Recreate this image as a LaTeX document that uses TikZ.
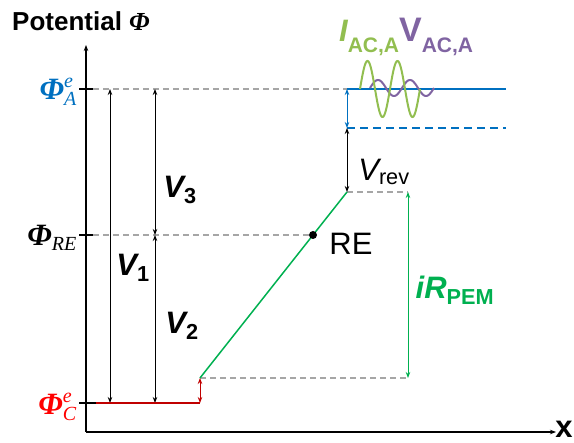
\documentclass[tikz,border=0pt]{standalone}
\usepackage{amsmath}
\usepackage{fontspec}
\setmainfont{Liberation Sans}
\newfontfamily\phifont{Liberation Serif}
\usetikzlibrary{arrows.meta}
\definecolor{cblue}{RGB}{0,112,192}
\definecolor{cgreen}{RGB}{0,176,80}
\definecolor{cdred}{RGB}{192,0,0}
\definecolor{cred}{RGB}{255,0,0}
\definecolor{colive}{RGB}{146,190,80}
\definecolor{cpurple}{RGB}{128,100,162}
\definecolor{cgray}{RGB}{166,166,166}
\newcommand{\bigphi}{{\phifont\bfseries\itshape Φ}}
\newcommand{\smi}[1]{\text{\fontsize{20}{20}\selectfont\itshape #1}}
\newcommand{\subt}[1]{\raisebox{-11pt}{\fontsize{21}{22}\selectfont\bfseries\upshape #1}}
\begin{document}
\begin{tikzpicture}[x=1pt,y=-1pt,
  >={Stealth[length=6pt,width=4.5pt]},
  axisline/.style={line width=1.2pt,black},
  dbl/.style={<->,line width=1pt},
  gdash/.style={cgray,dash pattern=on 6pt off 4pt,line width=1.3pt},
  lbl/.style={inner sep=0pt,font=\fontsize{31}{35}\selectfont},
  phil/.style={inner sep=0pt,font=\fontsize{31}{35}\selectfont\phifont}]
\useasboundingbox (0,0) rectangle (574,443);
% coordinates
\coordinate (O) at (86,432);
\coordinate (Ytop) at (86,45);
\coordinate (Xend) at (556,432);
\coordinate (tA1) at (79,89); \coordinate (tA2) at (93,89);
\coordinate (tR1) at (79,235); \coordinate (tR2) at (93,235);
\coordinate (tC1) at (79,403); \coordinate (tC2) at (96,403);
\coordinate (C2) at (200,403);
\coordinate (Cb) at (200,378);
\coordinate (Ab) at (347,89);
\coordinate (Ad) at (347,128);
\coordinate (Top) at (347,192);
\coordinate (REp) at (313,235);
\coordinate (Aend) at (506,89);
\coordinate (Adend) at (506,128);
\coordinate (gT) at (408,192);
\coordinate (gB) at (408,378);
\coordinate (v1t) at (110,89); \coordinate (v1b) at (110,403);
\coordinate (v3t) at (155,89); \coordinate (v3b) at (155,235);
\coordinate (v2b) at (155,403);
% gray dashed
\draw[gdash] (tA2) -- (Ab);
\draw[gdash] (tR2) -- (REp);
\draw[gdash] (Cb) -- (gB);
\draw[gdash] (Top) -- (gT);
% axes
\draw[axisline,->] (O) -- (Ytop);
\draw[axisline,->] (O) -- (Xend);
\draw[axisline] (tA1) -- (tA2);
\draw[axisline] (tR1) -- (tR2);
\draw[axisline] (tC1) -- (tC2);
% V arrows
\draw[dbl] (v1t) -- (v1b);
\draw[dbl] (v3t) -- (v3b);
\draw[dbl] (v3b) -- (v2b);
% red
\draw[cdred,line width=1.8pt] (tC2) -- (C2);
\draw[dbl,cdred] (C2) -- (Cb);
% green
\draw[cgreen,line width=1.5pt] (Cb) -- (Top);
\draw[dbl,cgreen] (gT) -- (gB);
% blue
\draw[cblue,line width=1.5pt] (Ab) -- (Aend);
\draw[cblue,line width=1.5pt,dash pattern=on 8pt off 5pt] (Ad) -- (Adend);
\draw[dbl,cblue] (Ab) -- (Ad);
\draw[dbl] (Ad) -- (Top);
% RE dot
\fill (REp) circle (4pt);
% waves
\draw[cpurple,line width=2pt] plot[domain=0:64,samples=120] ({370+\x},{88-8*sin(\x*11.25)});
\draw[colive,line width=2pt] plot[domain=0:60,samples=120] ({360+\x},{89-28*sin(\x*12)});
% labels
\node[anchor=base west,inner sep=0pt,font=\fontsize{26}{30}\selectfont\bfseries] (title) at (12,31) {Potential \bigphi};
\node[phil,anchor=east,text=cblue] (phiA) at (77,92) {$\text{\bfseries\itshape Φ}^{\smi{e}}_{\smi{A}}$};
\node[phil,anchor=east] (phiRE) at (77,238) {$\text{\bfseries\itshape Φ}_{\smi{RE}}$};
\node[phil,anchor=east,text=cred] (phiC) at (77,407) {$\text{\bfseries\itshape Φ}^{\smi{e}}_{\smi{C}}$};
\node[lbl] (V3) at (180,190) {\bfseries\itshape V\textsubscript{\upshape 3}};
\node[lbl] (V2) at (182,326) {\bfseries\itshape V\textsubscript{\upshape 2}};
\node[lbl] (V1) at (133,268) {\bfseries\itshape V\textsubscript{\upshape 1}};
\node[lbl] (Vrev) at (384,172) {\itshape V\textsubscript{\upshape rev}};
\node[lbl] (RE) at (351,244) {RE};
\node[lbl,text=cgreen] (iR) at (455,290) {\bfseries\itshape iR\textsubscript{\upshape PEM}};
\node[inner sep=0pt,font=\fontsize{31}{34}\selectfont\bfseries] (xl) at (564,429) {x};
\node[inner sep=0pt,font=\bfseries,anchor=base west] (IV) at (339,42) {\textcolor{colive}{\fontsize{31}{36}\selectfont\itshape I\subt{AC,A}}\textcolor{cpurple}{\fontsize{34}{36}\selectfont V\subt{AC,A}}};
\end{tikzpicture}
\end{document}
